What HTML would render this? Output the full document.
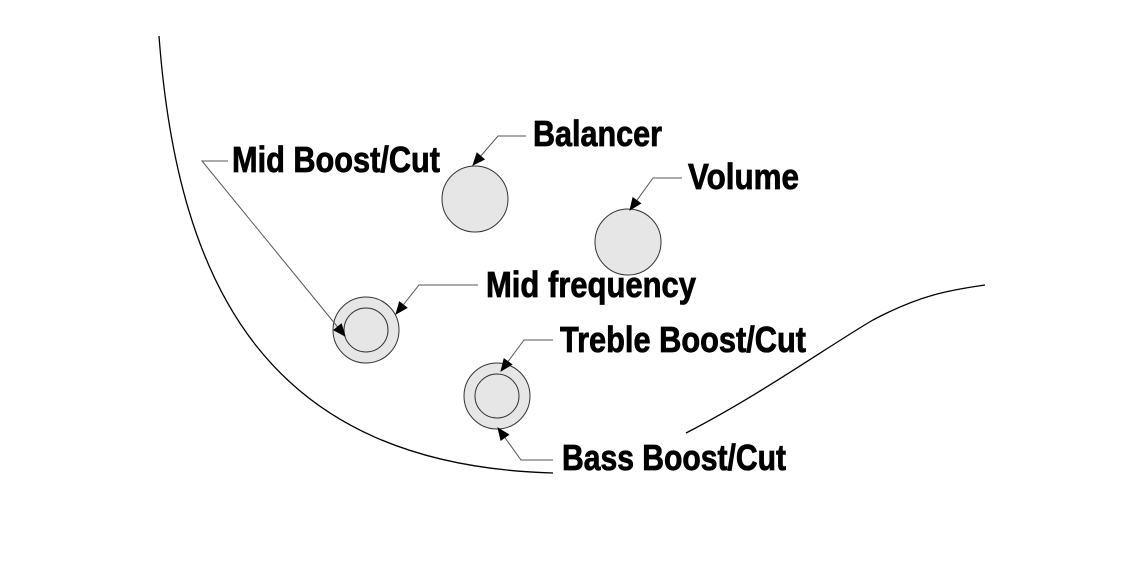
<!DOCTYPE html>
<html><head><meta charset="utf-8"><style>
html,body{margin:0;padding:0;background:#fff;width:1140px;height:570px;overflow:hidden}
text{font-family:"Liberation Sans",sans-serif;font-weight:bold;font-size:36px;fill:#000;stroke:#000;stroke-width:0.8}
</style></head><body>
<svg width="1140" height="570" viewBox="0 0 1140 570" xmlns="http://www.w3.org/2000/svg">
<defs>
<marker id="b" viewBox="0 0 12 10" refX="11" refY="5" markerWidth="14" markerHeight="11" orient="auto" markerUnits="userSpaceOnUse"><path d="M0,0 L12,5 L0,10 z" fill="#000"/></marker></defs>
<g fill="none" stroke="#000" stroke-width="1.3">
<path d="M159,36 C 178,290 270,465 553,473"/>
<path d="M686,433 C 760,395 830,345 873,320 C 920,295 950,290 985,285"/>
</g>
<g stroke="#333" stroke-width="1" fill="#e6e6e6">
<circle cx="475" cy="199" r="33"/>
<circle cx="628" cy="242" r="33"/>
<circle cx="366" cy="330" r="33"/>
<circle cx="366" cy="330" r="22"/>
<circle cx="497" cy="396" r="33"/>
<circle cx="497" cy="396" r="22"/>
</g>
<g fill="none" stroke="#555" stroke-width="1">
<path d="M526,136 L498,136 L473,165" marker-end="url(#b)"/>
<path d="M682,178 L653,178 L630,210" marker-end="url(#b)"/>
<path d="M478,285 L419,285 L396,314" marker-end="url(#b)"/>
<path d="M228,161 L202,161 L345,336" marker-end="url(#b)"/>
<path d="M553,340 L524,340 L501,371" marker-end="url(#b)"/>
<path d="M553,460 L521,460 L498,428" marker-end="url(#b)"/>
</g>
<text x="533" y="146" textLength="129" lengthAdjust="spacingAndGlyphs">Balancer</text>
<text x="688" y="189" textLength="111" lengthAdjust="spacingAndGlyphs">Volume</text>
<text x="232" y="172" textLength="208" lengthAdjust="spacingAndGlyphs">Mid Boost/Cut</text>
<text x="486" y="297" textLength="210" lengthAdjust="spacingAndGlyphs">Mid frequency</text>
<text x="560" y="352" textLength="246" lengthAdjust="spacingAndGlyphs">Treble Boost/Cut</text>
<text x="562" y="470" textLength="224" lengthAdjust="spacingAndGlyphs">Bass Boost/Cut</text>
</svg>
</body></html>
